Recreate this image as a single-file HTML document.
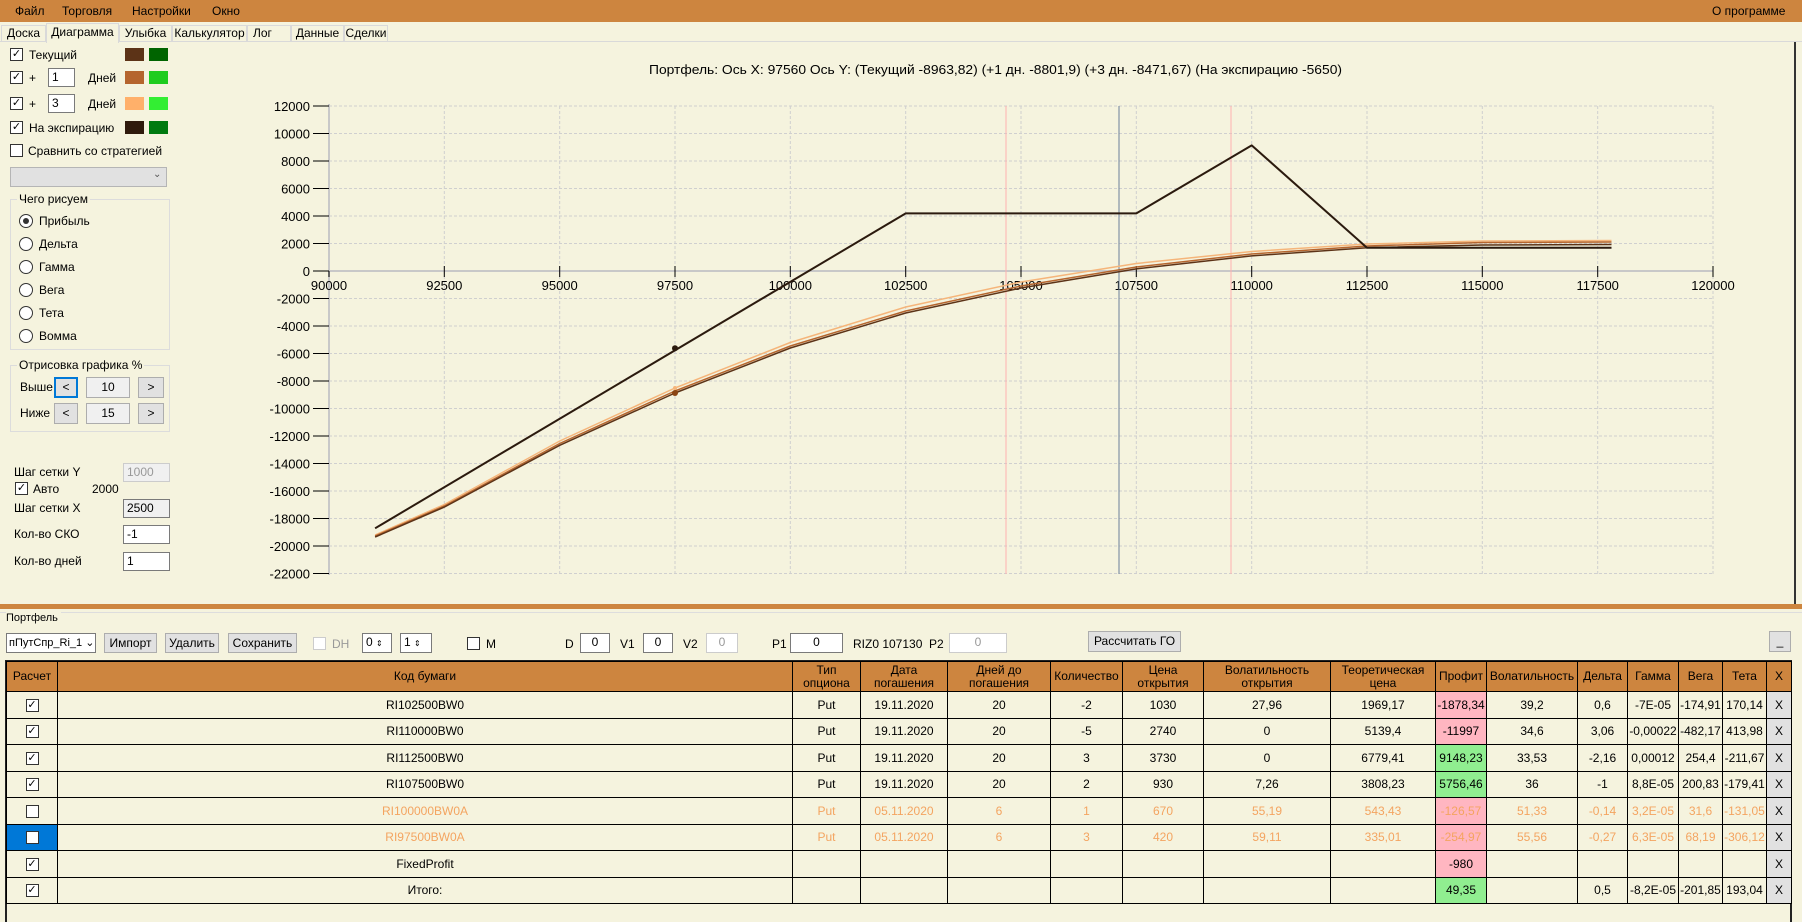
<!DOCTYPE html>
<html><head><meta charset="utf-8"><style>
*{box-sizing:border-box;margin:0;padding:0}
body{width:1802px;height:921px;overflow:hidden;background:#f5f3de;font-family:"Liberation Sans",sans-serif;font-size:12px;color:#000;position:relative}
.a{position:absolute;white-space:nowrap}
.cb{position:absolute;width:13px;height:13px;border:1px solid #333;background:#fff;font-size:11px;line-height:11px;text-align:center}
.rd{position:absolute;width:14px;height:14px;border:1px solid #333;border-radius:50%;background:#fff}
.in{position:absolute;border:1px solid #7a7a7a;background:#fff;padding-left:3px;line-height:17px}
.bt{position:absolute;border:1px solid #adadad;background:#e1e1e1;text-align:center}
.sw{position:absolute;width:19px;height:13px}
.tb{position:absolute;top:25px;height:17px;border:1px solid #d9d9d9;line-height:15px;text-align:center}
table{position:absolute;left:6px;top:661px;border-collapse:collapse;table-layout:fixed;font-size:12px}
td,th{border:1px solid #000;text-align:center;height:26.5px;padding:0;overflow:hidden;white-space:nowrap}
th{background:#cd853f;font-weight:normal;height:30px;line-height:13px;white-space:normal}
.o td{color:#f4a460}
.pk{background:#ffb6c1}.gr{background:#90ee90}
.x{background:#e1e1e1}
.cc{display:inline-block;width:13px;height:13px;border:1px solid #333;background:#fff;font-size:11px;line-height:11px;vertical-align:middle;color:#000}
</style></head><body>
<div class="a" style="left:0;top:0;width:1802px;height:22px;background:#cd853f"></div>
<div class="a" style="left:15px;top:4px">Файл</div><div class="a" style="left:62px;top:4px">Торговля</div><div class="a" style="left:132px;top:4px">Настройки</div><div class="a" style="left:212px;top:4px">Окно</div>
<div class="a" style="left:1712px;top:4px">О программе</div>
<!-- tabs -->
<div class="a" style="left:0;top:22px;width:1802px;height:20px;background:#f5f3de;border-bottom:1px solid #d9d9d9"></div>
<div class="tb" style="left:1px;width:45px">Доска</div>
<div class="a" style="left:46px;top:23px;width:73px;height:20px;border:1px solid #d9d9d9;border-bottom:none;background:#f5f3de;text-align:center;line-height:16px">Диаграмма</div>
<div class="tb" style="left:119px;width:53px">Улыбка</div>
<div class="tb" style="left:172px;width:75px">Калькулятор</div>
<div class="tb" style="left:247px;width:44px;text-align:left;padding-left:5px">Лог</div>
<div class="tb" style="left:291px;width:53px">Данные</div>
<div class="tb" style="left:344px;width:44px">Сделки</div>
<!-- left panel -->
<div class="cb" style="left:10px;top:48px">✓</div><div class="a" style="left:29px;top:48px">Текущий</div>
<div class="sw" style="left:125px;top:48px;background:#5c3317"></div><div class="sw" style="left:149px;top:48px;background:#006400"></div>
<div class="cb" style="left:10px;top:71px">✓</div><div class="a" style="left:29px;top:71px">+</div><div class="in" style="left:48px;top:68px;width:27px;height:19px">1</div><div class="a" style="left:88px;top:71px">Дней</div>
<div class="sw" style="left:125px;top:71px;background:#b5652e"></div><div class="sw" style="left:149px;top:71px;background:#1fcc1f"></div>
<div class="cb" style="left:10px;top:97px">✓</div><div class="a" style="left:29px;top:97px">+</div><div class="in" style="left:48px;top:94px;width:27px;height:19px">3</div><div class="a" style="left:88px;top:97px">Дней</div>
<div class="sw" style="left:125px;top:97px;background:#ffb06a"></div><div class="sw" style="left:149px;top:97px;background:#33ee33"></div>
<div class="cb" style="left:10px;top:121px">✓</div><div class="a" style="left:29px;top:121px">На экспирацию</div>
<div class="sw" style="left:125px;top:121px;background:#2f1a0c"></div><div class="sw" style="left:149px;top:121px;background:#007a10"></div>
<div class="cb" style="left:10px;top:144px"></div><div class="a" style="left:28px;top:144px">Сравнить со стратегией</div>
<div class="a" style="left:10px;top:167px;width:157px;height:20px;background:#e1e1e1;border:1px solid #b5b5b5"></div><div class="a" style="left:153px;top:169px;font-size:10px;color:#555">⌄</div>
<div class="a" style="left:10px;top:199px;width:160px;height:151px;border:1px solid #dcdcdc"></div>
<div class="a" style="left:17px;top:192px;background:#f5f3de;padding:0 2px">Чего рисуем</div>
<div class="rd" style="left:19px;top:214px"><div style="position:absolute;left:3px;top:3px;width:6px;height:6px;border-radius:50%;background:#333"></div></div><div class="a" style="left:39px;top:214px">Прибыль</div>
<div class="rd" style="left:19px;top:237px"></div><div class="a" style="left:39px;top:237px">Дельта</div>
<div class="rd" style="left:19px;top:260px"></div><div class="a" style="left:39px;top:260px">Гамма</div>
<div class="rd" style="left:19px;top:283px"></div><div class="a" style="left:39px;top:283px">Вега</div>
<div class="rd" style="left:19px;top:306px"></div><div class="a" style="left:39px;top:306px">Тета</div>
<div class="rd" style="left:19px;top:329px"></div><div class="a" style="left:39px;top:329px">Вомма</div>
<div class="a" style="left:10px;top:365px;width:160px;height:67px;border:1px solid #dcdcdc"></div>
<div class="a" style="left:17px;top:358px;background:#f5f3de;padding:0 2px">Отрисовка графика %</div>
<div class="a" style="left:20px;top:380px">Выше</div>
<div class="bt" style="left:54px;top:377px;width:24px;height:21px;border:2px solid #0078d7;line-height:17px">&lt;</div>
<div class="bt" style="left:86px;top:377px;width:44px;height:21px;background:#f0f0f0;line-height:19px">10</div>
<div class="bt" style="left:138px;top:377px;width:26px;height:21px;line-height:19px">&gt;</div>
<div class="a" style="left:20px;top:406px">Ниже</div>
<div class="bt" style="left:54px;top:403px;width:24px;height:21px;line-height:19px">&lt;</div>
<div class="bt" style="left:86px;top:403px;width:44px;height:21px;background:#f0f0f0;line-height:19px">15</div>
<div class="bt" style="left:138px;top:403px;width:26px;height:21px;line-height:19px">&gt;</div>
<div class="a" style="left:14px;top:465px">Шаг сетки Y</div><div class="in" style="left:123px;top:463px;width:47px;height:19px;background:#f0f0f0;border-color:#ccc;color:#999">1000</div>
<div class="cb" style="left:15px;top:482px">✓</div><div class="a" style="left:33px;top:482px">Авто</div><div class="a" style="left:92px;top:482px">2000</div>
<div class="a" style="left:14px;top:501px">Шаг сетки X</div><div class="in" style="left:123px;top:499px;width:47px;height:19px;background:#f0f0f0">2500</div>
<div class="a" style="left:14px;top:527px">Кол-во СКО</div><div class="in" style="left:123px;top:525px;width:47px;height:19px">-1</div>
<div class="a" style="left:14px;top:554px">Кол-во дней</div><div class="in" style="left:123px;top:552px;width:47px;height:19px">1</div>
<div class="a" style="left:1794px;top:42px;width:2px;height:563px;background:#333"></div>
<!-- chart -->
<svg class="a" style="left:0;top:0" width="1802" height="600" font-family="Liberation Sans, sans-serif" font-size="13">
<text x="649" y="74" textLength="693" lengthAdjust="spacingAndGlyphs">Портфель: Ось X: 97560 Ось Y:  (Текущий -8963,82)  (+1 дн. -8801,9)  (+3 дн. -8471,67)  (На экспирацию -5650)</text>
<g stroke="#cfcfcf" stroke-dasharray="3,2" stroke-width="1">
<line x1="329" x2="1713" y1="106" y2="106"/><line x1="329" x2="1713" y1="133.5" y2="133.5"/><line x1="329" x2="1713" y1="161" y2="161"/><line x1="329" x2="1713" y1="188.5" y2="188.5"/><line x1="329" x2="1713" y1="216" y2="216"/><line x1="329" x2="1713" y1="243.5" y2="243.5"/>
<line x1="329" x2="1713" y1="298.5" y2="298.5"/><line x1="329" x2="1713" y1="326" y2="326"/><line x1="329" x2="1713" y1="353.5" y2="353.5"/><line x1="329" x2="1713" y1="381" y2="381"/><line x1="329" x2="1713" y1="408.5" y2="408.5"/><line x1="329" x2="1713" y1="436" y2="436"/><line x1="329" x2="1713" y1="463.5" y2="463.5"/><line x1="329" x2="1713" y1="491" y2="491"/><line x1="329" x2="1713" y1="518.5" y2="518.5"/><line x1="329" x2="1713" y1="546" y2="546"/><line x1="329" x2="1713" y1="573.5" y2="573.5"/>
<line x1="444.3" x2="444.3" y1="106" y2="574"/><line x1="559.7" x2="559.7" y1="106" y2="574"/><line x1="675" x2="675" y1="106" y2="574"/><line x1="790.3" x2="790.3" y1="106" y2="574"/><line x1="905.7" x2="905.7" y1="106" y2="574"/><line x1="1021" x2="1021" y1="106" y2="574"/><line x1="1136.3" x2="1136.3" y1="106" y2="574"/><line x1="1251.7" x2="1251.7" y1="106" y2="574"/><line x1="1367" x2="1367" y1="106" y2="574"/><line x1="1482.3" x2="1482.3" y1="106" y2="574"/><line x1="1597.7" x2="1597.7" y1="106" y2="574"/><line x1="1713" x2="1713" y1="106" y2="574"/>
</g>
<line x1="329" x2="1713" y1="271" y2="271" stroke="#c8c8c8" stroke-width="2"/>
<line x1="329" x2="329" y1="104" y2="575" stroke="#c8c8c8" stroke-width="2"/>
<g stroke="#000"><line x1="313" x2="329" y1="106" y2="106"/><line x1="313" x2="329" y1="133.5" y2="133.5"/><line x1="313" x2="329" y1="161" y2="161"/><line x1="313" x2="329" y1="188.5" y2="188.5"/><line x1="313" x2="329" y1="216" y2="216"/><line x1="313" x2="329" y1="243.5" y2="243.5"/><line x1="313" x2="329" y1="271" y2="271"/><line x1="313" x2="329" y1="298.5" y2="298.5"/><line x1="313" x2="329" y1="326" y2="326"/><line x1="313" x2="329" y1="353.5" y2="353.5"/><line x1="313" x2="329" y1="381" y2="381"/><line x1="313" x2="329" y1="408.5" y2="408.5"/><line x1="313" x2="329" y1="436" y2="436"/><line x1="313" x2="329" y1="463.5" y2="463.5"/><line x1="313" x2="329" y1="491" y2="491"/><line x1="313" x2="329" y1="518.5" y2="518.5"/><line x1="313" x2="329" y1="546" y2="546"/><line x1="313" x2="329" y1="573.5" y2="573.5"/>
<line x1="329" x2="329" y1="271" y2="277"/><line x1="444.3" x2="444.3" y1="266" y2="277"/><line x1="559.7" x2="559.7" y1="266" y2="277"/><line x1="675" x2="675" y1="266" y2="277"/><line x1="790.3" x2="790.3" y1="266" y2="277"/><line x1="905.7" x2="905.7" y1="266" y2="277"/><line x1="1021" x2="1021" y1="266" y2="277"/><line x1="1136.3" x2="1136.3" y1="266" y2="277"/><line x1="1251.7" x2="1251.7" y1="266" y2="277"/><line x1="1367" x2="1367" y1="266" y2="277"/><line x1="1482.3" x2="1482.3" y1="266" y2="277"/><line x1="1597.7" x2="1597.7" y1="266" y2="277"/><line x1="1713" x2="1713" y1="266" y2="277"/></g>
<g text-anchor="end"><text x="310" y="111">12000</text><text x="310" y="138.5">10000</text><text x="310" y="166">8000</text><text x="310" y="193.5">6000</text><text x="310" y="221">4000</text><text x="310" y="248.5">2000</text><text x="310" y="276">0</text><text x="310" y="303.5">-2000</text><text x="310" y="331">-4000</text><text x="310" y="358.5">-6000</text><text x="310" y="386">-8000</text><text x="310" y="413.5">-10000</text><text x="310" y="441">-12000</text><text x="310" y="468.5">-14000</text><text x="310" y="496">-16000</text><text x="310" y="523.5">-18000</text><text x="310" y="551">-20000</text><text x="310" y="578.5">-22000</text></g>
<g text-anchor="middle"><text x="329" y="290">90000</text><text x="444.3" y="290">92500</text><text x="559.7" y="290">95000</text><text x="675" y="290">97500</text><text x="790.3" y="290">100000</text><text x="905.7" y="290">102500</text><text x="1021" y="290">105000</text><text x="1136.3" y="290">107500</text><text x="1251.7" y="290">110000</text><text x="1367" y="290">112500</text><text x="1482.3" y="290">115000</text><text x="1597.7" y="290">117500</text><text x="1713" y="290">120000</text></g>
<line x1="1006" x2="1006" y1="106" y2="574" stroke="#ffb0b0"/><line x1="1231" x2="1231" y1="106" y2="574" stroke="#ffb0b0"/>
<line x1="1119" x2="1119" y1="106" y2="574" stroke="#6b7f99"/>
<g fill="none" stroke-linejoin="round">
<polyline stroke="#f5b57a" stroke-width="1.5" points="375.1,535 444.3,504.5 559.7,441 675,388 790.3,342.5 905.7,307 1021,282 1136.3,263.5 1251.7,251.5 1367,244 1482.3,241 1611.5,240.5"/>
<polyline stroke="#b5652e" stroke-width="1.5" points="375.1,536 444.3,506 559.7,443.5 675,391 790.3,346 905.7,311 1021,286 1136.3,267 1251.7,254 1367,246 1482.3,242.5 1611.5,242"/>
<polyline stroke="#5c3317" stroke-width="1.5" points="375.1,537 444.3,507.1 559.7,445.3 675,393 790.3,348 905.7,313 1021,288 1136.3,268.9 1251.7,255.9 1367,247.7 1482.3,245 1611.5,244.5"/>
<polyline stroke="#2b1a0e" stroke-width="2" points="375.1,528.3 905.7,213.4 1136.3,213.4 1251.7,145.4 1367,247.7 1611.5,247.7"/>
</g>
<circle cx="675" cy="348.3" r="3" fill="#2b1a0e"/><circle cx="675" cy="393" r="3" fill="#8b4513"/><circle cx="675" cy="388" r="2" fill="#f5b57a"/>
</svg>
<!-- bottom -->
<div class="a" style="left:0;top:604px;width:1802px;height:5px;background:#cd853f"></div>
<div class="a" style="left:0;top:612px;width:1802px;height:1px;background:#ddd"></div>
<div class="a" style="left:6px;top:612px;background:#f5f3de;padding-right:3px;font-size:11px">Портфель</div>
<div class="a" style="left:6px;top:633px;width:90px;height:20px;border:1px solid #7a7a7a;background:#fff;line-height:18px;padding-left:2px;font-size:11px">пПутСпр_Ri_1 ⌄</div>
<div class="bt" style="left:104px;top:633px;width:53px;height:20px;line-height:18px">Импорт</div>
<div class="bt" style="left:165px;top:633px;width:54px;height:20px;line-height:18px">Удалить</div>
<div class="bt" style="left:228px;top:633px;width:69px;height:20px;line-height:18px">Сохранить</div>
<div class="cb" style="left:313px;top:637px;border-color:#ccc"></div><div class="a" style="left:332px;top:637px;color:#999">DH</div>
<div class="in" style="left:362px;top:633px;width:30px;height:20px">0 <span style="font-size:8px">⇕</span></div>
<div class="in" style="left:400px;top:633px;width:32px;height:20px">1 <span style="font-size:8px">⇕</span></div>
<div class="cb" style="left:467px;top:637px"></div><div class="a" style="left:486px;top:637px">M</div>
<div class="a" style="left:565px;top:637px">D</div><div class="in" style="left:580px;top:633px;width:30px;height:20px;text-align:center;padding:0">0</div>
<div class="a" style="left:620px;top:637px">V1</div><div class="in" style="left:643px;top:633px;width:30px;height:20px;text-align:center;padding:0">0</div>
<div class="a" style="left:683px;top:637px">V2</div><div class="in" style="left:706px;top:633px;width:32px;height:20px;text-align:center;padding:0;border-color:#ccc;color:#999">0</div>
<div class="a" style="left:772px;top:637px">P1</div><div class="in" style="left:790px;top:633px;width:53px;height:20px;text-align:center;padding:0">0</div>
<div class="a" style="left:853px;top:637px">RIZ0 107130 &nbsp;P2</div><div class="in" style="left:949px;top:633px;width:58px;height:20px;text-align:center;padding:0;border-color:#ccc;color:#999">0</div>
<div class="bt" style="left:1088px;top:631px;width:93px;height:21px;line-height:19px">Рассчитать ГО</div>
<div class="bt" style="left:1769px;top:631px;width:22px;height:21px;line-height:19px">_</div>
<div class="a" style="left:5px;top:660px;width:1787px;height:262px;border:2px solid #222;border-bottom:none"></div>
<table>
<colgroup><col style="width:51px"><col style="width:735px"><col style="width:68px"><col style="width:87px"><col style="width:103px"><col style="width:72px"><col style="width:81px"><col style="width:127px"><col style="width:105px"><col style="width:51px"><col style="width:91px"><col style="width:50px"><col style="width:51px"><col style="width:44px"><col style="width:44px"><col style="width:25px"></colgroup>
<tr><th>Расчет</th><th>Код бумаги</th><th>Тип опциона</th><th>Дата погашения</th><th>Дней до погашения</th><th>Количество</th><th>Цена открытия</th><th>Волатильность открытия</th><th>Теоретическая цена</th><th>Профит</th><th>Волатильность</th><th>Дельта</th><th>Гамма</th><th>Вега</th><th>Тета</th><th>X</th></tr>
<tr><td><span class="cc">✓</span></td><td>RI102500BW0</td><td>Put</td><td>19.11.2020</td><td>20</td><td>-2</td><td>1030</td><td>27,96</td><td>1969,17</td><td class="pk">-1878,34</td><td>39,2</td><td>0,6</td><td>-7E-05</td><td>-174,91</td><td>170,14</td><td class="x">X</td></tr>
<tr><td><span class="cc">✓</span></td><td>RI110000BW0</td><td>Put</td><td>19.11.2020</td><td>20</td><td>-5</td><td>2740</td><td>0</td><td>5139,4</td><td class="pk">-11997</td><td>34,6</td><td>3,06</td><td>-0,00022</td><td>-482,17</td><td>413,98</td><td class="x">X</td></tr>
<tr><td><span class="cc">✓</span></td><td>RI112500BW0</td><td>Put</td><td>19.11.2020</td><td>20</td><td>3</td><td>3730</td><td>0</td><td>6779,41</td><td class="gr">9148,23</td><td>33,53</td><td>-2,16</td><td>0,00012</td><td>254,4</td><td>-211,67</td><td class="x">X</td></tr>
<tr><td><span class="cc">✓</span></td><td>RI107500BW0</td><td>Put</td><td>19.11.2020</td><td>20</td><td>2</td><td>930</td><td>7,26</td><td>3808,23</td><td class="gr">5756,46</td><td>36</td><td>-1</td><td>8,8E-05</td><td>200,83</td><td>-179,41</td><td class="x" style="color:#000">X</td></tr>
<tr class="o"><td><span class="cc"></span></td><td>RI100000BW0A</td><td>Put</td><td>05.11.2020</td><td>6</td><td>1</td><td>670</td><td>55,19</td><td>543,43</td><td class="pk">-126,57</td><td>51,33</td><td>-0,14</td><td>3,2E-05</td><td>31,6</td><td>-131,05</td><td class="x" style="color:#000">X</td></tr>
<tr class="o"><td style="background:#0078d7"><span class="cc"></span></td><td>RI97500BW0A</td><td>Put</td><td>05.11.2020</td><td>6</td><td>3</td><td>420</td><td>59,11</td><td>335,01</td><td class="pk">-254,97</td><td>55,56</td><td>-0,27</td><td>6,3E-05</td><td>68,19</td><td>-306,12</td><td class="x" style="color:#000">X</td></tr>
<tr><td><span class="cc">✓</span></td><td>FixedProfit</td><td></td><td></td><td></td><td></td><td></td><td></td><td></td><td class="pk">-980</td><td></td><td></td><td></td><td></td><td></td><td class="x">X</td></tr>
<tr><td><span class="cc">✓</span></td><td>Итого:</td><td></td><td></td><td></td><td></td><td></td><td></td><td></td><td class="gr">49,35</td><td></td><td>0,5</td><td>-8,2E-05</td><td>-201,85</td><td>193,04</td><td class="x">X</td></tr>
</table>
</body></html>
